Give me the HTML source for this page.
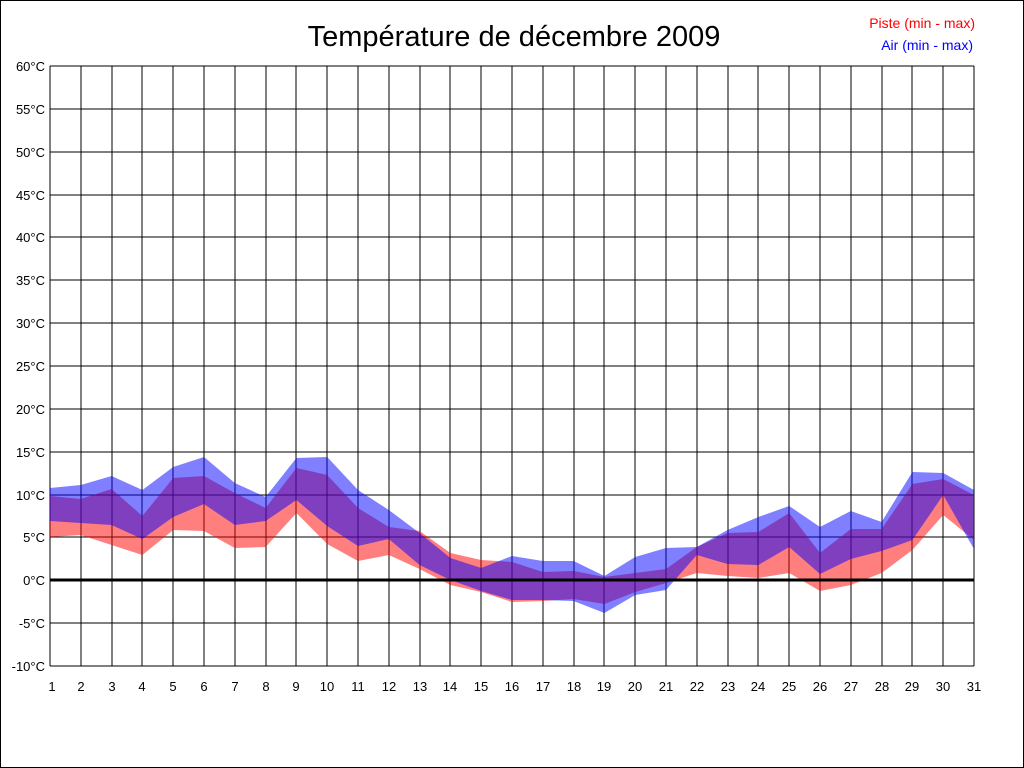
<!DOCTYPE html>
<html><head><meta charset="utf-8"><style>
html,body{margin:0;padding:0;background:#fff}
svg{display:block}
text{font-family:"Liberation Sans",Arial,sans-serif}
</style></head><body>
<svg width="1024" height="768" viewBox="0 0 1024 768" xmlns="http://www.w3.org/2000/svg">
<rect x="0.5" y="0.5" width="1023" height="767" fill="#fff" stroke="#000" stroke-width="1"/>
<text x="514" y="46" font-size="29" text-anchor="middle" fill="#000">Température de décembre 2009</text>
<text x="975" y="28" font-size="14" text-anchor="end" fill="#ff0000">Piste (min - max)</text>
<text x="973" y="50" font-size="14" text-anchor="end" fill="#0000ff">Air (min - max)</text>
<g stroke="#000" stroke-width="1" shape-rendering="crispEdges">
<line x1="50" y1="66" x2="974" y2="66"/><line x1="50" y1="109" x2="974" y2="109"/><line x1="50" y1="152" x2="974" y2="152"/><line x1="50" y1="195" x2="974" y2="195"/><line x1="50" y1="237" x2="974" y2="237"/><line x1="50" y1="280" x2="974" y2="280"/><line x1="50" y1="323" x2="974" y2="323"/><line x1="50" y1="366" x2="974" y2="366"/><line x1="50" y1="409" x2="974" y2="409"/><line x1="50" y1="452" x2="974" y2="452"/><line x1="50" y1="495" x2="974" y2="495"/><line x1="50" y1="537" x2="974" y2="537"/><line x1="50" y1="623" x2="974" y2="623"/><line x1="50" y1="666" x2="974" y2="666"/>
<line x1="50" y1="66" x2="50" y2="666"/><line x1="81" y1="66" x2="81" y2="666"/><line x1="112" y1="66" x2="112" y2="666"/><line x1="142" y1="66" x2="142" y2="666"/><line x1="173" y1="66" x2="173" y2="666"/><line x1="204" y1="66" x2="204" y2="666"/><line x1="235" y1="66" x2="235" y2="666"/><line x1="266" y1="66" x2="266" y2="666"/><line x1="296" y1="66" x2="296" y2="666"/><line x1="327" y1="66" x2="327" y2="666"/><line x1="358" y1="66" x2="358" y2="666"/><line x1="389" y1="66" x2="389" y2="666"/><line x1="420" y1="66" x2="420" y2="666"/><line x1="450" y1="66" x2="450" y2="666"/><line x1="481" y1="66" x2="481" y2="666"/><line x1="512" y1="66" x2="512" y2="666"/><line x1="543" y1="66" x2="543" y2="666"/><line x1="574" y1="66" x2="574" y2="666"/><line x1="604" y1="66" x2="604" y2="666"/><line x1="635" y1="66" x2="635" y2="666"/><line x1="666" y1="66" x2="666" y2="666"/><line x1="697" y1="66" x2="697" y2="666"/><line x1="728" y1="66" x2="728" y2="666"/><line x1="758" y1="66" x2="758" y2="666"/><line x1="789" y1="66" x2="789" y2="666"/><line x1="820" y1="66" x2="820" y2="666"/><line x1="851" y1="66" x2="851" y2="666"/><line x1="882" y1="66" x2="882" y2="666"/><line x1="912" y1="66" x2="912" y2="666"/><line x1="943" y1="66" x2="943" y2="666"/><line x1="974" y1="66" x2="974" y2="666"/>
</g>
<polygon fill="#ff0000" fill-opacity="0.5" points="50,496 80.8,499 111.6,489 142.4,516 173.2,478 204,476 234.8,493 265.6,508 296.4,468 327.2,475 358,508 388.8,527 419.6,531 450.4,553 481.2,560 512,562 542.8,572 573.6,571 604.4,577 635.2,573 666,569 696.8,547 727.6,533 758.4,532 789.2,513 820,553 850.8,529 881.6,529 912.4,484 943.2,479 974,495 974,540 943.2,515 912.4,550 881.6,573 850.8,585 820,591 789.2,573 758.4,578 727.6,576 696.8,573 666,583 635.2,592 604.4,604 573.6,599 542.8,601 512,602 481.2,592 450.4,585 419.6,569 388.8,555 358,561 327.2,544 296.4,513 265.6,547 234.8,548 204,531 173.2,530 142.4,555 111.6,545 80.8,535 50,537"/>
<polygon fill="#0000ff" fill-opacity="0.5" points="50,488 80.8,485 111.6,476 142.4,490 173.2,467 204,457 234.8,483 265.6,497 296.4,458 327.2,457 358,490 388.8,510 419.6,533 450.4,558 481.2,568 512,556 542.8,561 573.6,561 604.4,576 635.2,557 666,548 696.8,547 727.6,530 758.4,517 789.2,506 820,527 850.8,511 881.6,522 912.4,472 943.2,473 974,490 974,549 943.2,495 912.4,540 881.6,551 850.8,559 820,574 789.2,547 758.4,565 727.6,564 696.8,555 666,590 635.2,595 604.4,613 573.6,601 542.8,600 512,600 481.2,591 450.4,580 419.6,565 388.8,539 358,546 327.2,526 296.4,500 265.6,521 234.8,525 204,504 173.2,517 142.4,539 111.6,525 80.8,523 50,521"/>
<line x1="50" y1="580" x2="974" y2="580" stroke="#000" stroke-width="3"/>
<g font-size="13" text-anchor="end" fill="#000">
<text x="45" y="71">60°C</text><text x="45" y="114">55°C</text><text x="45" y="157">50°C</text><text x="45" y="200">45°C</text><text x="45" y="242">40°C</text><text x="45" y="285">35°C</text><text x="45" y="328">30°C</text><text x="45" y="371">25°C</text><text x="45" y="414">20°C</text><text x="45" y="457">15°C</text><text x="45" y="500">10°C</text><text x="45" y="542">5°C</text><text x="45" y="585">0°C</text><text x="45" y="628">-5°C</text><text x="45" y="671">-10°C</text>
</g>
<g font-size="13" text-anchor="middle" fill="#000">
<text x="52" y="691">1</text><text x="81" y="691">2</text><text x="112" y="691">3</text><text x="142" y="691">4</text><text x="173" y="691">5</text><text x="204" y="691">6</text><text x="235" y="691">7</text><text x="266" y="691">8</text><text x="296" y="691">9</text><text x="327" y="691">10</text><text x="358" y="691">11</text><text x="389" y="691">12</text><text x="420" y="691">13</text><text x="450" y="691">14</text><text x="481" y="691">15</text><text x="512" y="691">16</text><text x="543" y="691">17</text><text x="574" y="691">18</text><text x="604" y="691">19</text><text x="635" y="691">20</text><text x="666" y="691">21</text><text x="697" y="691">22</text><text x="728" y="691">23</text><text x="758" y="691">24</text><text x="789" y="691">25</text><text x="820" y="691">26</text><text x="851" y="691">27</text><text x="882" y="691">28</text><text x="912" y="691">29</text><text x="943" y="691">30</text><text x="974" y="691">31</text>
</g>
</svg>
</body></html>
